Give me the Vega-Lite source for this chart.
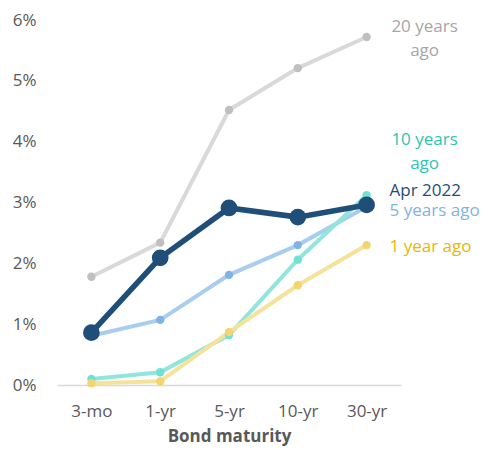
{
  "$schema": "https://vega.github.io/schema/vega-lite/v6.json",
  "width": 344,
  "height": 365,
  "autosize": "none",
  "padding": {"left": 57, "top": 20, "right": 88, "bottom": 65},
  "background": "white",
  "config": {"view": {"stroke": null}, "font": "Open Sans"},
  "datasets": {
    "yields": [
      {"series": "20 years ago", "maturity": "3-mo", "rate": 1.78},
      {"series": "20 years ago", "maturity": "1-yr", "rate": 2.34},
      {"series": "20 years ago", "maturity": "5-yr", "rate": 4.52},
      {"series": "20 years ago", "maturity": "10-yr", "rate": 5.21},
      {"series": "20 years ago", "maturity": "30-yr", "rate": 5.72},
      {"series": "5 years ago", "maturity": "3-mo", "rate": 0.81},
      {"series": "5 years ago", "maturity": "1-yr", "rate": 1.07},
      {"series": "5 years ago", "maturity": "5-yr", "rate": 1.81},
      {"series": "5 years ago", "maturity": "10-yr", "rate": 2.3},
      {"series": "5 years ago", "maturity": "30-yr", "rate": 2.93},
      {"series": "10 years ago", "maturity": "3-mo", "rate": 0.1},
      {"series": "10 years ago", "maturity": "1-yr", "rate": 0.21},
      {"series": "10 years ago", "maturity": "5-yr", "rate": 0.82},
      {"series": "10 years ago", "maturity": "10-yr", "rate": 2.06},
      {"series": "10 years ago", "maturity": "30-yr", "rate": 3.12},
      {"series": "1 year ago", "maturity": "3-mo", "rate": 0.03},
      {"series": "1 year ago", "maturity": "1-yr", "rate": 0.06},
      {"series": "1 year ago", "maturity": "5-yr", "rate": 0.87},
      {"series": "1 year ago", "maturity": "10-yr", "rate": 1.64},
      {"series": "1 year ago", "maturity": "30-yr", "rate": 2.3},
      {"series": "Apr 2022", "maturity": "3-mo", "rate": 0.86},
      {"series": "Apr 2022", "maturity": "1-yr", "rate": 2.09},
      {"series": "Apr 2022", "maturity": "5-yr", "rate": 2.91},
      {"series": "Apr 2022", "maturity": "10-yr", "rate": 2.76},
      {"series": "Apr 2022", "maturity": "30-yr", "rate": 2.96}
    ],
    "labels": [
      {"series": "20 years ago", "maturity": "30-yr", "pos": 5.89, "label": "20 years\nago", "kind": "two"},
      {"series": "10 years ago", "maturity": "30-yr", "pos": 4.03, "label": "10 years\nago", "kind": "two"},
      {"series": "Apr 2022", "maturity": "30-yr", "pos": 3.19, "label": "Apr 2022", "kind": "one"},
      {"series": "5 years ago", "maturity": "30-yr", "pos": 2.86, "label": "5 years ago", "kind": "one"},
      {"series": "1 year ago", "maturity": "30-yr", "pos": 2.27, "label": "1 year ago", "kind": "one"}
    ]
  },
  "encoding": {
    "x": {
      "field": "maturity", "type": "ordinal",
      "sort": ["3-mo", "1-yr", "5-yr", "10-yr", "30-yr"],
      "scale": {"type": "point", "padding": 0.5},
      "axis": {
        "title": "Bond maturity", "titleFont": "Open Sans", "titleFontSize": 17, "titleFontWeight": "bold",
        "titleColor": "#595959", "titlePadding": 9,
        "labelAngle": 0, "labelFontSize": 17, "labelColor": "#595959", "labelPadding": 18,
        "ticks": false, "domainColor": "#d9d9d9", "domainWidth": 1.5, "grid": false
      }
    },
    "y": {
      "field": "rate", "type": "quantitative",
      "scale": {"domain": [0, 6], "nice": false},
      "axis": {
        "title": null, "values": [0, 1, 2, 3, 4, 5, 6], "labelExpr": "datum.value + '%'",
        "labelFontSize": 17, "labelColor": "#595959", "labelPadding": 21,
        "ticks": false, "domain": false, "grid": false
      }
    }
  },
  "layer": [
    {
      "data": {"name": "yields"},
      "mark": {"type": "line"},
      "encoding": {
        "stroke": {
          "field": "series", "type": "nominal", "legend": null, "sort": null,
          "scale": {
            "domain": ["20 years ago", "5 years ago", "10 years ago", "1 year ago", "Apr 2022"],
            "range": ["#d9d9d9", "#a9cdee", "#8fe6dc", "#f6e39a", "#1f4e79"]
          }
        },
        "strokeWidth": {"condition": {"test": "datum.series == 'Apr 2022'", "value": 5.5}, "value": 4}
      }
    },
    {
      "data": {"name": "yields"},
      "mark": {"type": "point", "filled": true, "opacity": 1},
      "encoding": {
        "fill": {
          "field": "series", "type": "nominal", "legend": null,
          "scale": {
            "domain": ["20 years ago", "5 years ago", "10 years ago", "1 year ago", "Apr 2022"],
            "range": ["#bfbfbf", "#7fb3e6", "#6fe0d4", "#f2d56e", "#1f4e79"]
          }
        },
        "size": {"condition": {"test": "datum.series == 'Apr 2022'", "value": 280}, "value": 70}
      }
    },
    {
      "data": {"name": "labels"},
      "transform": [{"filter": "datum.kind == 'two'"}],
      "mark": {"type": "text", "align": "center", "baseline": "middle", "dx": 58, "fontSize": 17, "lineBreak": "\n", "lineHeight": 24},
      "encoding": {
        "y": {"field": "pos", "type": "quantitative"},
        "text": {"field": "label"},
        "color": {
          "field": "series", "type": "nominal", "legend": null,
          "scale": {
            "domain": ["20 years ago", "5 years ago", "10 years ago", "1 year ago", "Apr 2022"],
            "range": ["#a6a6a6", "#7fb3e6", "#2ec4b0", "#e6b800", "#1f4e79"]
          }
        }
      }
    },
    {
      "data": {"name": "labels"},
      "transform": [{"filter": "datum.kind == 'one'"}],
      "mark": {"type": "text", "align": "left", "baseline": "middle", "dx": 23, "fontSize": 17},
      "encoding": {
        "y": {"field": "pos", "type": "quantitative"},
        "text": {"field": "label"},
        "color": {
          "field": "series", "type": "nominal", "legend": null,
          "scale": {
            "domain": ["20 years ago", "5 years ago", "10 years ago", "1 year ago", "Apr 2022"],
            "range": ["#a6a6a6", "#7fb3e6", "#2ec4b0", "#e6b800", "#1f4e79"]
          }
        }
      }
    }
  ],
  "resolve": {"scale": {"fill": "independent", "color": "independent"}}
}
